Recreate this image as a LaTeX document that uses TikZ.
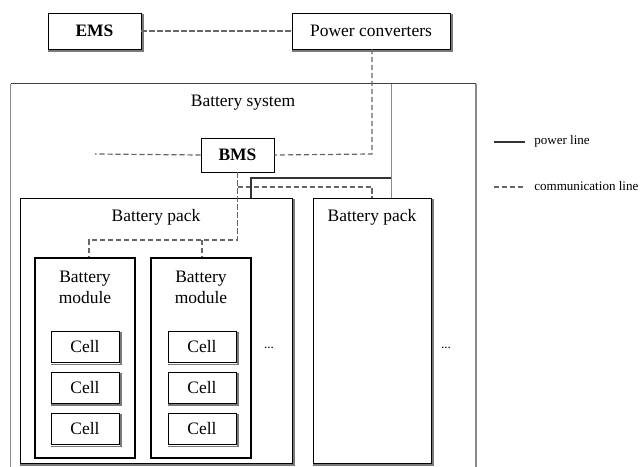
\documentclass[tikz,border=0pt]{standalone}
\usepackage{fontspec}
\setmainfont{Liberation Serif}
\usetikzlibrary{fit}
\definecolor{commgray}{HTML}{666666}
\definecolor{powgray}{HTML}{333333}
\definecolor{framegray}{HTML}{8A8A8A}
\definecolor{shadegray}{HTML}{7A7A7A}
\tikzset{
  txt/.style={font=\fontsize{13.1}{15.7}\selectfont, inner sep=0pt, align=center},
  smalltxt/.style={font=\fontsize{9.8}{12}\selectfont, inner sep=0pt, anchor=west},
  shbox/.style={draw=black, line width=0.7pt, fill=white, inner sep=0pt},
  shade line/.style={draw=shadegray, line width=1.3pt},
  plainbox/.style={draw=black, line width=0.7pt, fill=white, inner sep=0pt},
  modbox/.style={draw=black, line width=1.1pt, fill=white, inner sep=0pt},
  comm/.style={draw=commgray, line width=0.9pt, dash pattern=on 3.8pt off 2.2pt},
  powerline/.style={draw=powgray, line width=2.1pt},
  thinline/.style={draw=framegray, line width=0.6pt},
}
\begin{document}
\begin{tikzpicture}[x=0.75pt, y=-0.75pt]
\useasboundingbox (0,0) rectangle (640,467);

% battery system frame
\node[fit={(11,84) (476,475)}, inner sep=0pt] (sys) {};
\draw[draw=framegray, line width=0.6pt] (sys.south west) -- (sys.north west);
\draw[draw=black!75, line width=0.7pt] (sys.north west) -- (sys.north east);
\draw[draw=framegray, line width=1.4pt] (sys.north east) -- (sys.south east);
\node[txt] (systxt) at (243,103) {Battery system};

% top boxes
\node[shbox, fit={(48,13) (141,49)}] (ems) {};
\node[txt, font=\fontsize{13.1}{15.7}\selectfont\bfseries] (emstxt) at (ems.center) {EMS};
\node[shbox, fit={(292,13) (450,49)}] (pc) {};
\node[txt] (pctxt) at (pc.center) {Power converters};

% BMS
\node[plainbox, fit={(201,138) (274,172)}] (bms) {};
\node[txt, font=\fontsize{13.1}{15.7}\selectfont\bfseries] (bmstxt) at (bms.center) {BMS};

% packs
\node[shbox, fit={(20,198) (292,463)}] (pack1) {};
\node[txt] (pack1txt) at (156,217) {Battery pack};
\node[shbox, fit={(313,198) (431,463)}] (pack2) {};
\node[txt] (pack2txt) at (372,217) {Battery pack};

% modules
\node[modbox, fit={(35,258) (135,458)}] (mod1) {};
\node[txt] (mod1txt) at (85,287) {Battery\\module};
\node[modbox, fit={(151,258) (251,458)}] (mod2) {};
\node[txt] (mod2txt) at (201,287) {Battery\\module};

% cells
\foreach \m/\cx in {1/85, 2/202} {
  \foreach \r/\cy in {1/347, 2/387.5, 3/429} {
    \node[shbox, minimum width=68*0.75pt, minimum height=31*0.75pt,
      font=\fontsize{13.1}{15.7}\selectfont] (cell\m\r) at (\cx,\cy) {Cell};
  }
}

% shadows (bottom and right edges)
\foreach \n in {ems,pc,pack1,pack2,cell11,cell12,cell13,cell21,cell22,cell23} {
  \draw[shade line] ([shift={(0,1.4)}]\n.south west) -- ([shift={(1.2,1.4)}]\n.south east)
    -- ([shift={(1.2,1)}]\n.north east);
}

% dots
\node[smalltxt, anchor=center] (dots1) at (269,348) {...};
\node[smalltxt, anchor=center] (dots2) at (446,348) {...};

% communication lines
\draw[comm] (ems.east) -- (pc.west);
\coordinate (pcdown) at (372,49);
\coordinate (bmsr) at (372,154);
\draw[comm] (pcdown) -- (bmsr) -- (bms.east);
\coordinate (bmsleft) at (95,154);
\draw[comm] (bms.west) -- (bmsleft);
\coordinate (j1) at (237.5,240);
\coordinate (j1l) at (89,240);
\coordinate (j1m) at (202,240);
\draw[comm] (bms.south) -- (j1) -- (j1l) -- (j1l |- mod1.north);
\draw[comm] (j1m) -- (j1m |- mod2.north);
\coordinate (j2) at (237.5,187);
\coordinate (j2r) at (372,187);
\draw[comm] (j2) -- (j2r) -- (pack2.north);

% power lines
\coordinate (pv1) at (391,84);
\coordinate (pv2) at (391,198);
\draw[thinline] (pv1) -- (pv2);
\coordinate (ph1) at (391,178);
\coordinate (ph2) at (251,178);
\draw[powerline] (ph1) -- (ph2) -- (ph2 |- pack1.north);

% legend
\coordinate (lg1a) at (494,142);
\coordinate (lg1b) at (525,142);
\draw[powerline] (lg1a) -- (lg1b);
\node[smalltxt] (lg1txt) at (534,141) {power line};
\coordinate (lg2a) at (494,187);
\coordinate (lg2b) at (525,187);
\draw[comm] (lg2a) -- (lg2b);
\node[smalltxt] (lg2txt) at (534,186) {communication line};
\end{tikzpicture}
\end{document}
